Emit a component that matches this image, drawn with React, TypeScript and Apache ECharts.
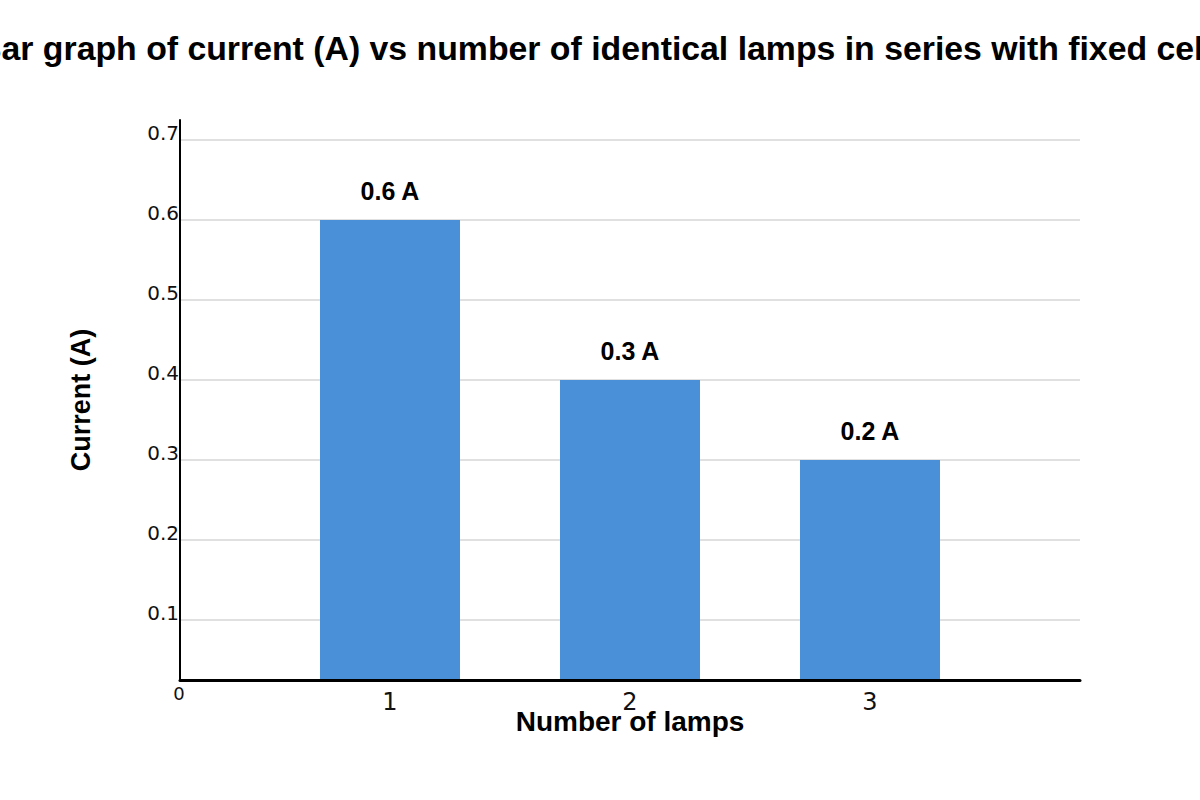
import { useEffect, useRef } from "react";
import * as echarts from "echarts";

// number of identical lamps on the x axis
const lampCounts = [1, 2, 3];
// bar heights as drawn against the current axis
const barHeights = [0.6, 0.4, 0.3];
// texts written above each bar
const barLabels = ["0.6 A", "0.3 A", "0.2 A"];

const TITLE =
  "Bar graph of current (A) vs number of identical lamps in series with fixed cell";
const BOLD_FONT = "Liberation Sans, Arial, sans-serif";
const TICK_FONT = "DejaVu Sans, sans-serif";

export default function App() {
  const chartRef = useRef<HTMLDivElement>(null);

  useEffect(() => {
    if (!chartRef.current) return;
    const chart = echarts.init(chartRef.current, undefined, { renderer: "svg" });

    const option: echarts.EChartsOption = {
      animation: false,
      backgroundColor: "#ffffff",
      title: {
        text: TITLE,
        left: 590,
        textAlign: "center",
        top: 26,
        textStyle: {
          fontFamily: BOLD_FONT,
          fontSize: 33.8,
          fontWeight: "bold",
          color: "#000",
        },
      },
      grid: {
        left: 180,
        right: 120,
        top: 120,
        bottom: 120,
        containLabel: false,
        outerBoundsMode: "none",
      } as any,
      xAxis: {
        type: "value",
        min: 0.125,
        max: 3.875,
        splitNumber: 4,
        z: 3,
        name: "Number of lamps",
        nameLocation: "middle",
        nameGap: 27,
        nameMoveOverlap: false,
        nameTextStyle: {
          fontFamily: BOLD_FONT,
          fontSize: 28,
          fontWeight: "bold",
          color: "#000",
        },
        axisLine: { show: true, onZero: false, lineStyle: { color: "#000", width: 3 } },
        axisTick: { show: false },
        splitLine: { show: false },
        axisLabel: {
          fontFamily: TICK_FONT,
          fontSize: 24,
          color: "#111",
          margin: 10,
          showMinLabel: false,
          showMaxLabel: false,
          formatter: (v: number) => (Number.isInteger(v) ? String(v) : ""),
        },
      } as any,
      yAxis: {
        type: "value",
        min: 0.025,
        max: 0.725,
        splitNumber: 7,
        name: "Current (A)",
        nameLocation: "middle",
        nameGap: 86,
        nameTextStyle: {
          fontFamily: BOLD_FONT,
          fontSize: 27,
          fontWeight: "bold",
          color: "#000",
        },
        axisLine: { show: true, onZero: false, lineStyle: { color: "#000", width: 2 } },
        axisTick: { show: false },
        splitLine: {
          show: true,
          showMinLine: false,
          showMaxLine: false,
          lineStyle: { color: "#e0e0e0", width: 2 },
        } as any,
        axisLabel: {
          fontFamily: TICK_FONT,
          fontSize: 20,
          color: "#111",
          margin: 1,
          verticalAlign: "bottom",
          lineHeight: 15,
          showMinLabel: false,
          showMaxLabel: false,
          formatter: (v: number) => v.toFixed(1),
        },
      },
      graphic: [
        {
          type: "text",
          x: 179,
          y: 693,
          style: {
            text: "0",
            fontFamily: TICK_FONT,
            fontSize: 18,
            fill: "#111",
            align: "center",
            verticalAlign: "middle",
          },
        },
      ],
      series: [
        {
          type: "bar",
          barWidth: 140,
          data: lampCounts.map((n, i) => [n, barHeights[i]]),
          itemStyle: { color: "#4a90d9" },
          label: {
            show: true,
            position: "top",
            distance: 17,
            formatter: (p: any) => barLabels[p.dataIndex],
            fontFamily: BOLD_FONT,
            fontSize: 25,
            fontWeight: "bold",
            color: "#000",
          },
        },
      ],
    };

    chart.setOption(option);
    return () => chart.dispose();
  }, []);

  return (
    <div
      ref={chartRef}
      style={{ position: "absolute", left: 0, top: 0, width: 1200, height: 800 }}
    />
  );
}
